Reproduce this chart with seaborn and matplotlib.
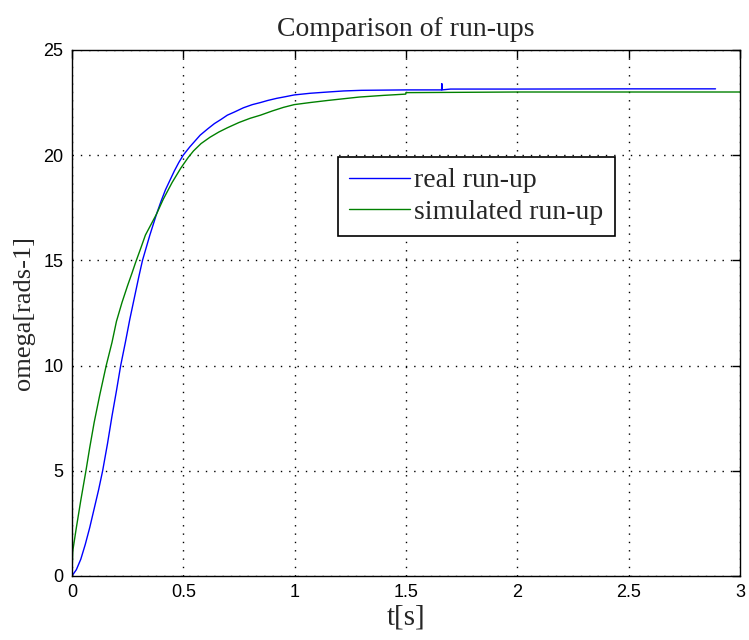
import matplotlib
matplotlib.use("Agg")
import matplotlib.pyplot as plt
import seaborn as sns
import pandas as pd

# real run-up (blue)
t_real = [0.0, 0.02, 0.04, 0.06, 0.08, 0.10, 0.12, 0.138, 0.16, 0.18, 0.20, 0.219,
          0.24, 0.26, 0.28, 0.30, 0.317, 0.35, 0.38, 0.40, 0.42, 0.44, 0.46, 0.48,
          0.50, 0.53, 0.576, 0.61, 0.64, 0.67, 0.698, 0.73, 0.77, 0.81, 0.847, 0.88,
          0.92, 0.96, 0.998, 1.07, 1.15, 1.22, 1.3, 1.5, 1.66, 1.661, 1.662, 1.7,
          2.0, 2.5, 2.89]
w_real = [0.0, 0.3, 0.8, 1.5, 2.3, 3.2, 4.1, 5.0, 6.3, 7.6, 8.8, 10.0,
          11.1, 12.2, 13.2, 14.2, 15.0, 16.2, 17.2, 17.8, 18.35, 18.8, 19.25, 19.65,
          20.0, 20.4, 20.95, 21.25, 21.5, 21.7, 21.9, 22.05, 22.25, 22.4, 22.5, 22.6,
          22.7, 22.78, 22.86, 22.94, 23.0, 23.05, 23.08, 23.1, 23.1, 23.4, 23.1, 23.14,
          23.14, 23.15, 23.15]

# simulated run-up (green)
t_sim = [0.0, 0.004, 0.02, 0.04, 0.063, 0.08, 0.10, 0.125, 0.154, 0.18, 0.20, 0.225,
         0.25, 0.27, 0.286, 0.31, 0.33, 0.355, 0.38, 0.41, 0.45, 0.49, 0.523, 0.546,
         0.58, 0.62, 0.66, 0.698, 0.75, 0.80, 0.847, 0.90, 0.95, 0.998, 1.07, 1.15,
         1.22, 1.29, 1.40, 1.499, 1.5, 2.0, 2.5, 3.0]
w_sim = [0.0, 1.2, 2.3, 3.6, 5.0, 6.1, 7.3, 8.6, 10.0, 11.1, 12.1, 13.0,
         13.8, 14.4, 14.9, 15.6, 16.2, 16.7, 17.2, 17.9, 18.7, 19.4, 19.9, 20.2,
         20.55, 20.85, 21.1, 21.3, 21.55, 21.75, 21.9, 22.1, 22.27, 22.4, 22.5, 22.6,
         22.68, 22.76, 22.84, 22.9, 22.97, 23.0, 23.0, 23.0]

x_ticks = [0, 0.5, 1, 1.5, 2, 2.5, 3]
x_tick_labels = ["0", "0.5", "1", "1.5", "2", "2.5", "3"]
y_ticks = [0, 5, 10, 15, 20, 25]
y_tick_labels = ["0", "5", "10", "15", "20", "25"]

df_real = pd.DataFrame({"t": t_real, "w": w_real})
df_sim = pd.DataFrame({"t": t_sim, "w": w_sim})

sns.set_style("white")
plt.rcParams["font.family"] = ["Liberation Sans", "DejaVu Sans"]

fig = plt.figure(figsize=(7.49, 6.40), dpi=100)
ax = fig.add_axes([0.096, 0.1, 0.892, 0.822])

sns.lineplot(data=df_real, x="t", y="w", ax=ax, color="#0000ff", lw=1.0,
             estimator=None, sort=False, label="real run-up")
sns.lineplot(data=df_sim, x="t", y="w", ax=ax, color="#008000", lw=1.0,
             estimator=None, sort=False, label="simulated run-up")

ax.set_xlim(0, 3)
ax.set_ylim(0, 25)
ax.set_xticks(x_ticks)
ax.set_xticklabels(x_tick_labels)
ax.set_yticks(y_ticks)
ax.set_yticklabels(y_tick_labels)
ax.tick_params(direction="in", length=6, width=1, top=True, right=True,
               labelsize=13, colors="black", pad=6)
for s in ax.spines.values():
    s.set_visible(True)
    s.set_color("black")
    s.set_linewidth(1.0)
ax.grid(True, color="black", linestyle=(0, (1, 5)), linewidth=1.0)

serif = ["Liberation Serif", "DejaVu Serif"]
ax.set_title("Comparison of run-ups", family=serif, fontsize=20, pad=10)
ax.set_xlabel("t[s]", family=serif, fontsize=21, labelpad=2)
ax.set_ylabel("omega[rads-1]", family=serif, fontsize=19, labelpad=6)

leg = ax.legend(loc="upper left", bbox_to_anchor=(0.398, 0.797), frameon=True,
                fancybox=False, edgecolor="black", framealpha=1,
                prop={"family": serif, "size": 20}, handlelength=2.2,
                borderpad=0.4, labelspacing=0.22, handletextpad=0.15, borderaxespad=0)
leg.get_frame().set_linewidth(1.2)

fig.savefig("out.png", dpi=100)
